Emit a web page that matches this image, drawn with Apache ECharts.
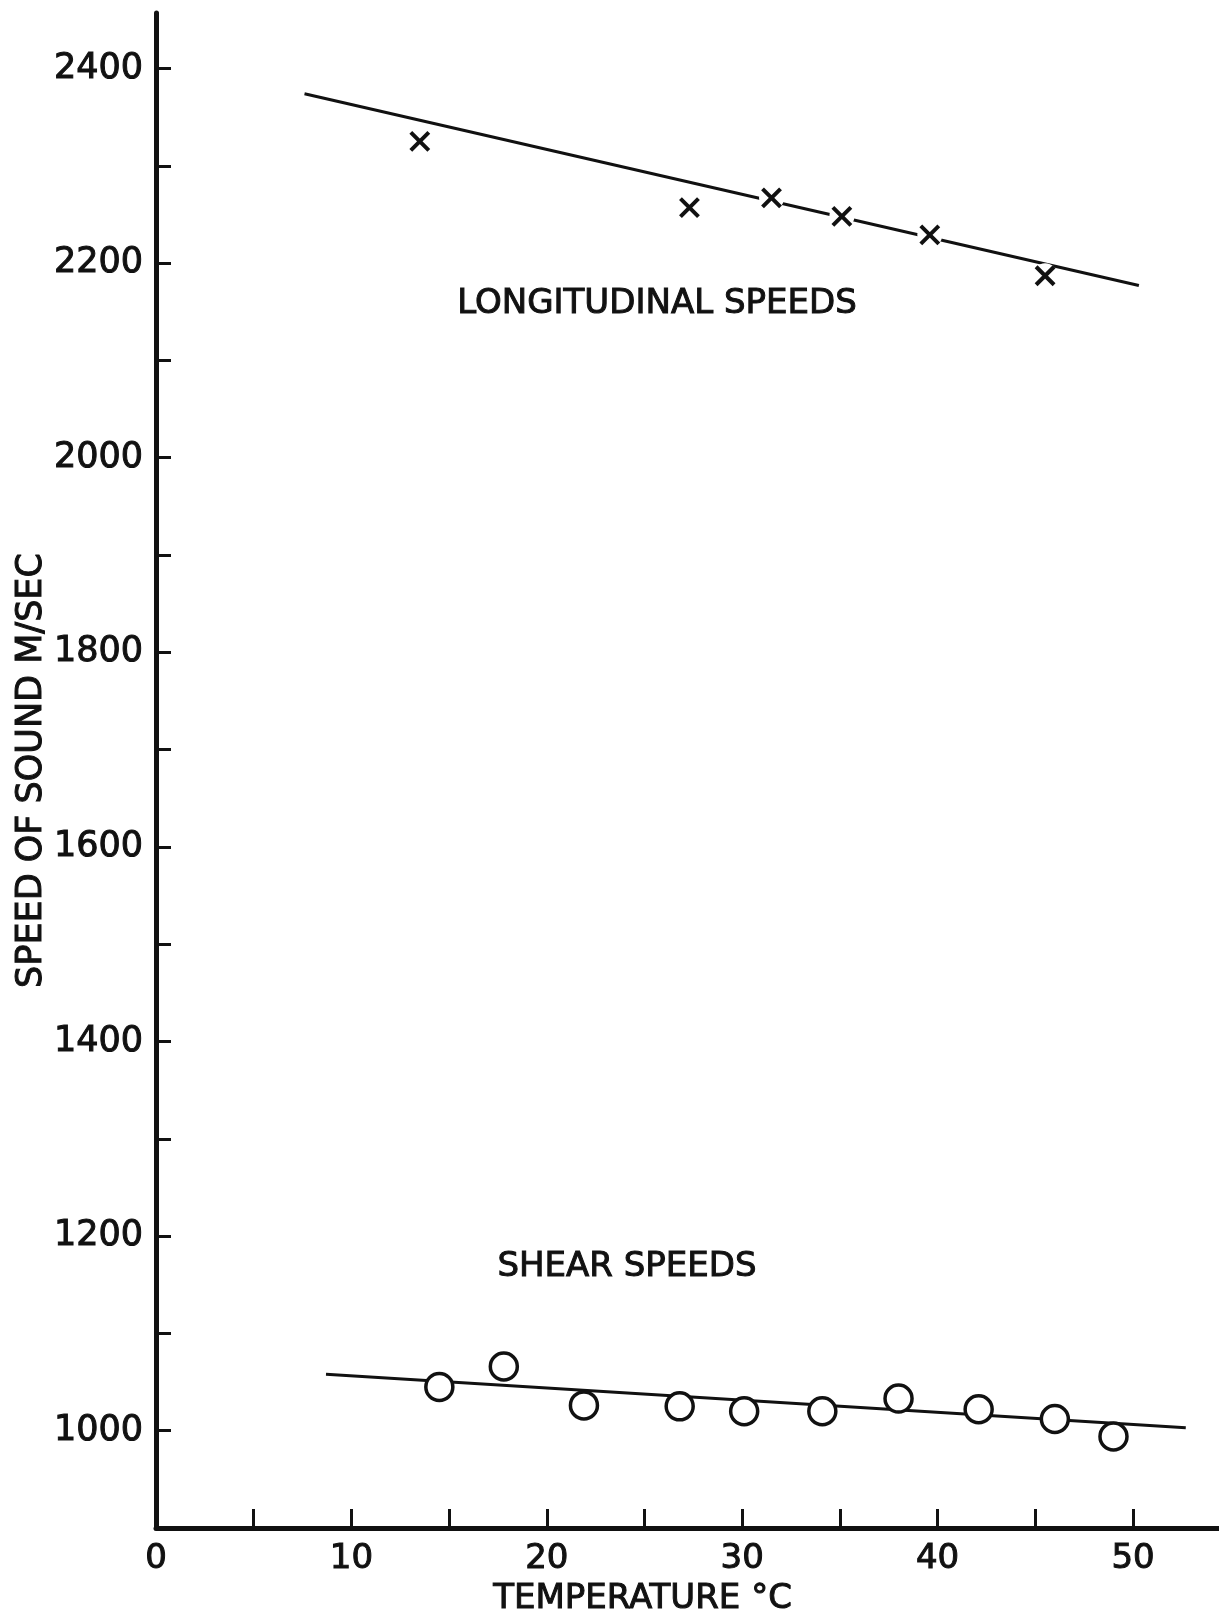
<!DOCTYPE html>
<html>
<head>
<meta charset="utf-8">
<script src="https://cdn.jsdelivr.net/npm/echarts@6/dist/echarts.min.js"></script>
<style>
    html, body { margin: 0; padding: 0; background: #fff; }
    #chart { width: 1219px; height: 1613px; }
</style>
</head>
<body>
<div id="chart"></div>
<script>
    // longitudinal speeds (x marks) and the fitted line
    const longTemp = [13.5, 27.3, 31.5, 35.1, 39.6, 45.5];
    const longSpeed = [2325, 2257, 2267, 2248, 2229, 2187];
    const longFitTemp = [7.6, 50.3];
    const longFitSpeed = [2374, 2177];

    // shear speeds (circles) and the fitted line
    const shearTemp = [14.5, 17.8, 21.9, 26.8, 30.1, 34.1, 38.0, 42.1, 46.0, 49.0];
    const shearSpeed = [1045, 1066, 1026, 1025, 1020, 1020, 1033, 1022, 1012, 994];
    const shearFitTemp = [8.7, 52.7];
    const shearFitSpeed = [1058, 1003];

    // axis ticks / labels
    const xTicks = [5, 10, 15, 20, 25, 30, 35, 40, 45, 50];
    const xLabels = [0, 10, 20, 30, 40, 50];
    const yTicks = [1000, 1100, 1200, 1300, 1400, 1500, 1600, 1700, 1800, 1900, 2000, 2100, 2200, 2300, 2400];
    const yLabels = [1000, 1200, 1400, 1600, 1800, 2000, 2200, 2400];

    const ink = '#111';
    const font = 'DejaVu Sans';

    const zip = (xs, ys) => xs.map((x, i) => [x, ys[i]]);

    // regular weight with a thin outline, close to the hand lettering
    const txt = (size) => ({
        color: ink,
        fontFamily: font,
        fontSize: size,
        textBorderColor: ink,
        textBorderWidth: 1
    });

    let chart = echarts.init(document.getElementById('chart'));

    let option = {
        animation: false,
        backgroundColor: '#fff',
        grid: { left: 156, right: 0, top: 13, bottom: 85, outerBoundsMode: 'none' },
        xAxis: {
            type: 'value',
            min: 0,
            max: 54.4,
            interval: 5,
            splitLine: { show: false },
            axisLine: { lineStyle: { color: ink, width: 5 } },
            axisTick: {
                inside: true,
                length: 19,
                customValues: xTicks,
                lineStyle: { color: ink, width: 3 }
            },
            axisLabel: Object.assign({ customValues: xLabels, margin: 14 }, txt(34)),
            name: 'TEMPERATURE °C',
            nameLocation: 'middle',
            nameGap: 52,
            nameTextStyle: Object.assign({ padding: [0, 90, 0, 0] }, txt(34))
        },
        yAxis: {
            type: 'value',
            min: 900,
            max: 2457,
            interval: 100,
            splitLine: { show: false },
            axisLine: { lineStyle: { color: ink, width: 5 } },
            axisTick: {
                inside: true,
                length: 15,
                customValues: yTicks,
                lineStyle: { color: ink, width: 3 }
            },
            axisLabel: Object.assign({
                customValues: yLabels,
                formatter: (v) => String(v),
                margin: 13
            }, txt(35)),
            name: 'SPEED OF SOUND M/SEC',
            nameLocation: 'middle',
            nameMoveOverlap: false,
            nameGap: 107,
            nameTextStyle: txt(35)
        },
        graphic: [
            {
                type: 'text',
                x: 657,
                y: 304,
                style: {
                    text: 'LONGITUDINAL SPEEDS',
                    font: '34px "DejaVu Sans"',
                    fill: ink,
                    stroke: ink,
                    lineWidth: 1,
                    align: 'center',
                    verticalAlign: 'middle'
                }
            },
            {
                type: 'text',
                x: 627,
                y: 1267,
                style: {
                    text: 'SHEAR SPEEDS',
                    font: '34px "DejaVu Sans"',
                    fill: ink,
                    stroke: ink,
                    lineWidth: 1,
                    align: 'center',
                    verticalAlign: 'middle'
                }
            }
        ],
        series: [
            {
                type: 'line',
                data: zip(longFitTemp, longFitSpeed),
                showSymbol: false,
                lineStyle: { color: ink, width: 3 },
                z: 1
            },
            {
                // white halo so the line breaks at each x mark
                type: 'scatter',
                data: zip(longTemp, longSpeed),
                symbol: 'circle',
                symbolSize: 25,
                itemStyle: { color: '#fff', opacity: 1 },
                silent: true,
                z: 2
            },
            {
                type: 'scatter',
                data: zip(longTemp, longSpeed),
                symbol: 'path://M0,0L10,10M10,0L0,10',
                symbolSize: [18, 18],
                itemStyle: { color: 'none', borderColor: ink, borderWidth: 4, opacity: 1 },
                z: 3
            },
            {
                type: 'line',
                data: zip(shearFitTemp, shearFitSpeed),
                showSymbol: false,
                lineStyle: { color: ink, width: 3 },
                z: 1
            },
            {
                type: 'scatter',
                data: zip(shearTemp, shearSpeed),
                symbol: 'circle',
                symbolSize: 27,
                itemStyle: { color: '#fff', borderColor: ink, borderWidth: 3.5, opacity: 1 },
                z: 3
            }
        ]
    };

    chart.setOption(option);
</script>
</body>
</html>
